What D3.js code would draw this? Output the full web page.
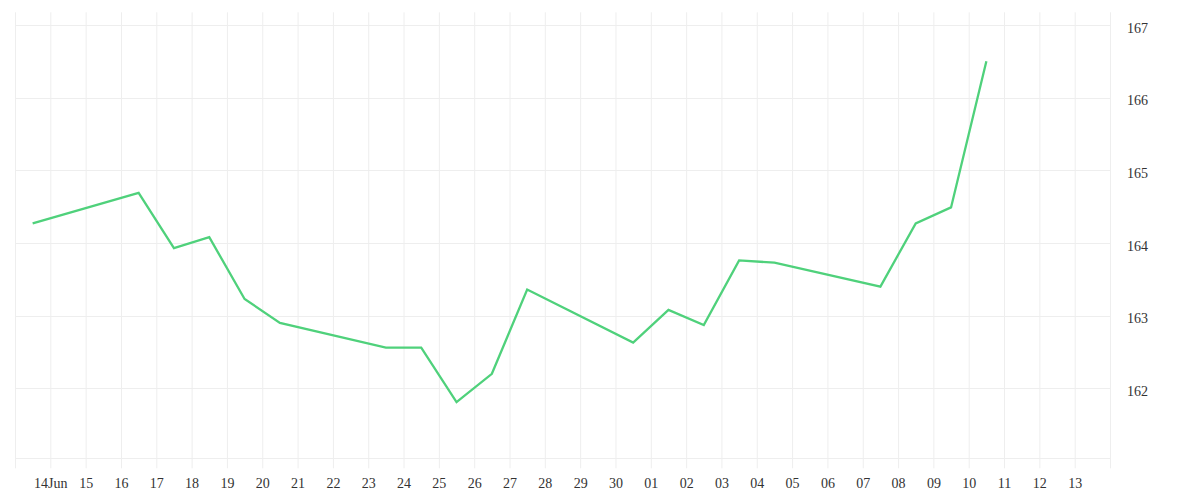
<!DOCTYPE html>
<html>
<head>
<meta charset="utf-8">
<script src="https://cdn.jsdelivr.net/npm/d3@7"></script>
<style>
  body { margin: 0; background: #fff; }
  svg { display: block; font-family: "Liberation Serif", serif; }
</style>
</head>
<body>
<svg></svg>
<script>
// daily closes, one point per trading day (noon timestamps)
const dates = [
  "2014-06-13", "2014-06-16", "2014-06-17", "2014-06-18", "2014-06-19", "2014-06-20",
  "2014-06-23", "2014-06-24", "2014-06-25", "2014-06-26", "2014-06-27",
  "2014-06-30", "2014-07-01", "2014-07-02", "2014-07-03", "2014-07-04",
  "2014-07-07", "2014-07-08", "2014-07-09", "2014-07-10"
];
const values = [
  164.27, 164.69, 163.93, 164.08, 163.23, 162.90,
  162.56, 162.56, 161.81, 162.20, 163.36,
  162.63, 163.08, 162.87, 163.76, 163.73,
  163.40, 164.27, 164.49, 166.50
];
const yTicks = [162, 163, 164, 165, 166, 167];
const xStart = "2014-06-13";
const xEnd = "2014-07-14";

const width = 1200;
const height = 500;
const plotLeft = 15;
const plotRight = 1110;
const plotTop = 12.3;
const plotBottom = 458.3;

const parse = d3.utcParse("%Y-%m-%d");
const data = dates.map((d, i) => ({
  date: d3.utcHour.offset(parse(d), 12),
  value: values[i]
}));

// Scales
const xScale = d3.scaleUtc()
    .domain([parse(xStart), parse(xEnd)])
    .range([plotLeft, plotRight]);

const yScale = d3.scaleLinear()
    .domain([161.037, 167.175])
    .range([plotBottom, plotTop]);

const svg = d3.select("svg")
    .attr("width", width)
    .attr("height", height);

// horizontal grid
svg.append("g")
  .selectAll("line")
  .data([yScale.domain()[0], ...yTicks])
  .enter()
  .append("line")
    .attr("x1", plotLeft)
    .attr("x2", plotRight)
    .attr("y1", d => Math.round(yScale(d)) + 0.5)
    .attr("y2", d => Math.round(yScale(d)) + 0.5)
    .attr("stroke", "#eeeeee");

// x axis: vertical grid + day labels
const dayTicks = d3.utcDay.range(parse(xStart), d3.utcDay.offset(parse(xEnd), 1));
const fmtDay = d3.utcFormat("%d");
const xAxis = d3.axisBottom(xScale)
    .tickValues(dayTicks)
    .tickSizeInner(-(plotBottom + 10 - plotTop))
    .tickSizeOuter(0)
    .tickPadding(10)
    .tickFormat((d, i) => {
      if (i === 0 || i === dayTicks.length - 1) return "";
      return i === 1 ? fmtDay(d) + "Jun" : fmtDay(d);
    });

const gx = svg.append("g")
    .attr("transform", `translate(0, ${plotBottom + 10})`)
    .call(xAxis);
gx.select(".domain").remove();
gx.selectAll(".tick line").attr("stroke", "#eeeeee");
gx.selectAll(".tick text")
    .attr("fill", "#333")
    .attr("font-size", 14)
    .attr("font-family", "Liberation Serif, serif");

// y axis on the right
const yAxis = d3.axisRight(yScale)
    .tickValues(yTicks)
    .tickSize(0)
    .tickPadding(17)
    .tickFormat(d3.format("d"));

const gy = svg.append("g")
    .attr("transform", `translate(${plotRight}, 0)`)
    .call(yAxis);
gy.select(".domain").remove();
gy.selectAll(".tick text")
    .attr("fill", "#333")
    .attr("font-size", 14)
    .attr("dy", "0.52em")
    .attr("font-family", "Liberation Serif, serif");

// line
const line = d3.line()
    .x(d => xScale(d.date))
    .y(d => yScale(d.value));

svg.append("path")
    .datum(data)
    .attr("d", line)
    .attr("fill", "none")
    .attr("stroke", "#4fd17b")
    .attr("stroke-width", 2.3)
    .attr("stroke-linejoin", "miter");
</script>
</body>
</html>
